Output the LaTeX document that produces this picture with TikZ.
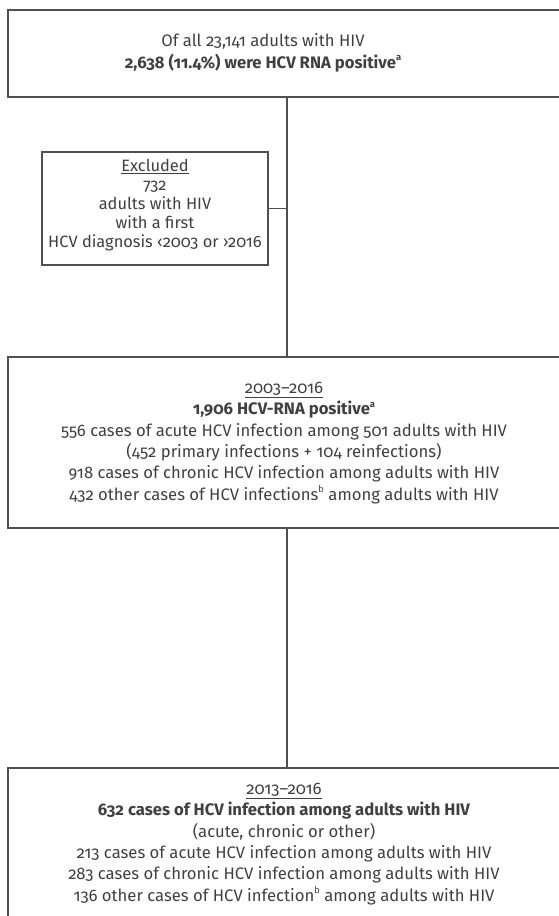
\documentclass[tikz,border=0pt]{standalone}
\usepackage{fontspec}
\setmainfont{Fira Sans}[Numbers=OldStyle]
\usetikzlibrary{fit}
\definecolor{txt}{HTML}{404040}
\definecolor{ln}{HTML}{505050}
\newcommand{\supr}[1]{\raisebox{0.45em}{\fontsize{7}{7}\selectfont #1}}
\begin{document}
\begin{tikzpicture}[x=0.75pt,y=-0.75pt,
  box/.style={draw=ln, line width=1.1pt, inner sep=0pt},
  lbl/.style={text=txt, align=center, font=\fontsize{12.5}{16}\selectfont, inner sep=0pt},
  exlbl/.style={text=txt, align=center, font=\fontsize{12.3}{14.2}\selectfont, inner sep=0pt},
  conn/.style={draw=ln, line width=1.1pt}]
\useasboundingbox (0,0) rectangle (559,916);
\clip (0,0) rectangle (559,916);
\coordinate (spine) at (287,0);
\coordinate (t1) at (8,10);   \coordinate (t2) at (575,97);
\coordinate (e1) at (42,152); \coordinate (e2) at (268,265);
\coordinate (m1) at (8,357);  \coordinate (m2) at (575,528);
\coordinate (b1) at (8,768);  \coordinate (b2) at (575,930);
\node[box, fit=(t1)(t2)] (top) {};
\node[box, fit=(e1)(e2)] (excl) {};
\node[box, fit=(m1)(m2)] (mid) {};
\node[box, fit=(b1)(b2)] (bot) {};
\node[lbl] (toptxt) at (263,53) {Of all 23,141 adults with HIV\\\textbf{2,638 (11.4\%) were HCV RNA positive\supr{a}}};
\node[exlbl] (excltxt) at (155,205) {\underline{Excluded}\\732\\adults with HIV\\with a first\\HCV diagnosis ‹2003 or ›2016};
\node[lbl] (midtxt) at (284,443) {\underline{2003–2016}\\\textbf{1,906 HCV-RNA positive\supr{a}}\\556 cases of acute HCV infection among 501 adults with HIV\\(452 primary infections + 104 reinfections)\\918 cases of chronic HCV infection among adults with HIV\\432 other cases of HCV infections\supr{b} among adults with HIV};
\node[lbl] (bottxt) at (284,844) {\underline{2013–2016}\\\textbf{632 cases of HCV infection among adults with HIV}\\(acute, chronic or other)\\213 cases of acute HCV infection among adults with HIV\\283 cases of chronic HCV infection among adults with HIV\\136 other cases of HCV infection\supr{b} among adults with HIV};
\draw[conn] (spine |- top.south) -- (spine |- mid.north);
\draw[conn] (excl.east) -- (spine |- excl.east);
\draw[conn] (spine |- mid.south) -- (spine |- bot.north);
\end{tikzpicture}
\end{document}
